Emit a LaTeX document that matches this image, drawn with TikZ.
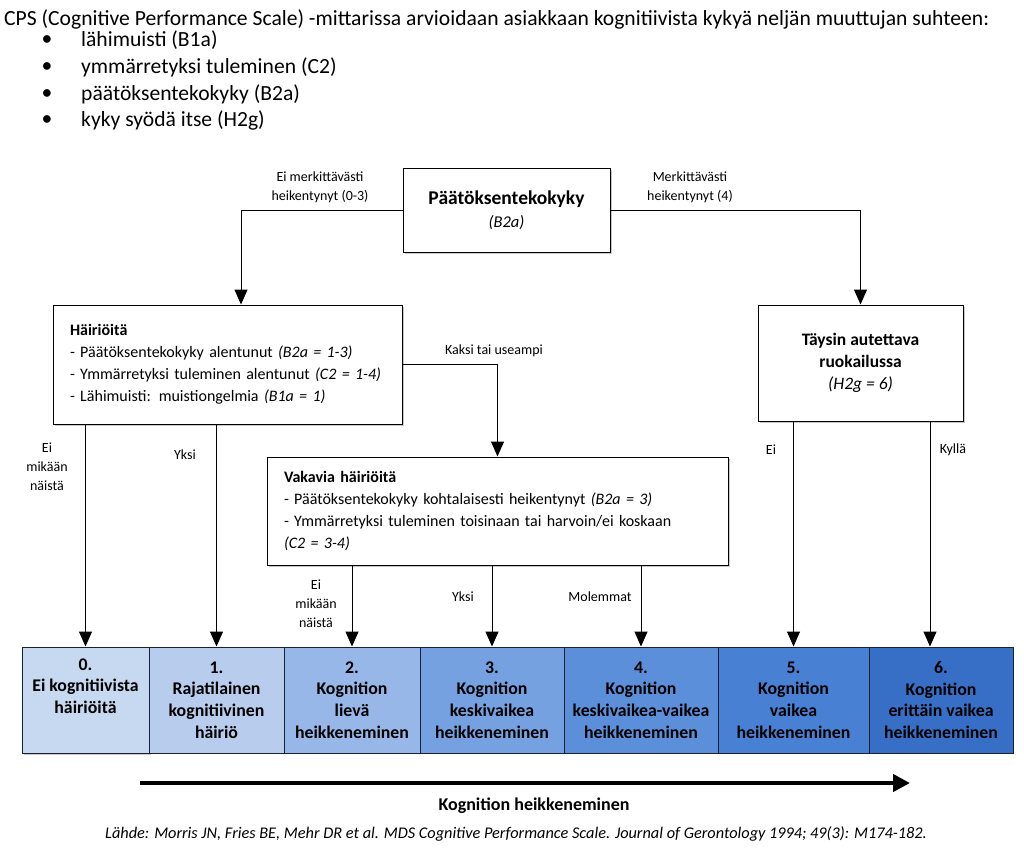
\documentclass[tikz,border=0pt]{standalone}
\usepackage{fontspec}
\setmainfont{Carlito}
\usetikzlibrary{arrows.meta,calc,shadows}

\definecolor{lvlA}{RGB}{198,217,241}
\definecolor{lvlB}{RGB}{184,205,238}
\definecolor{lvlC}{RGB}{150,183,231}
\definecolor{lvlD}{RGB}{117,161,225}
\definecolor{lvlE}{RGB}{92,143,218}
\definecolor{lvlF}{RGB}{72,128,211}
\definecolor{lvlG}{RGB}{56,111,198}
\definecolor{rim}{RGB}{25,32,48}

\newcommand\headfont{\fontsize{21.6}{25}\selectfont}
\newcommand\boxfont{\fontsize{16}{22}\selectfont}
\newcommand\lblfont{\fontsize{14}{18.8}\selectfont}
\newcommand\lvlfont{\fontsize{17.8}{21.6}\selectfont\bfseries}
\newcommand\bigbf[1]{{\fontsize{19.5}{23}\selectfont\bfseries #1}}

\tikzset{
	box/.style={draw, line width=1pt, fill=white, drop shadow={shadow xshift=2pt, shadow yshift=-2pt, opacity=0.3, fill=black!70}},
	lvl/.style={draw=rim, line width=1pt, minimum height=106, inner sep=0pt, align=center, font=\lvlfont},
	lbl/.style={font=\lblfont, inner sep=1pt},
	arr/.style={line width=1pt, -{Triangle[length=15pt,width=13pt]}}
}

\begin{document}
\begin{tikzpicture}[x=1pt, y=-1pt]
	%%%%% START %%%%%
	\useasboundingbox (0,0) rectangle (1024,852);
	
	% johdanto ja muuttujat
	\node[anchor=west, font=\headfont, inner sep=0pt] (intro) at (4,19) {CPS (Cognitive Performance Scale) -mittarissa arvioidaan asiakkaan kognitiivista kykyä neljän muuttujan suhteen:};
	\node[font=\headfont, inner sep=0pt] (dot1) at (47,41) {\textbullet};
	\node[anchor=west, font=\headfont, inner sep=0pt] (item1) at (81,40) {lähimuisti (B1a)};
	\node[font=\headfont, inner sep=0pt] (dot2) at (47,68) {\textbullet};
	\node[anchor=west, font=\headfont, inner sep=0pt] (item2) at (81,67) {ymmärretyksi tuleminen (C2)};
	\node[font=\headfont, inner sep=0pt] (dot3) at (47,95) {\textbullet};
	\node[anchor=west, font=\headfont, inner sep=0pt] (item3) at (81,94) {päätöksentekokyky (B2a)};
	\node[font=\headfont, inner sep=0pt] (dot4) at (47,121) {\textbullet};
	\node[anchor=west, font=\headfont, inner sep=0pt] (item4) at (81,120) {kyky syödä itse (H2g)};
	
	% paatoslaatikot
	\node[box, minimum width=207, minimum height=84, align=center, font=\fontsize{16.5}{23}\selectfont] (paatos) at (506.5,210) {\bigbf{Päätöksentekokyky}\\\textit{(B2a)}};
	
	\node[box, minimum width=349, minimum height=119, text width=315, inner xsep=17pt, align=left, font=\boxfont] (hairiot) at (227.5,364.5) {\textbf{Häiriöitä}\\
		- Päätöksentekokyky alentunut \textit{(B2a = 1-3)}\\
		- Ymmärretyksi tuleminen alentunut \textit{(C2 = 1-4)}\\
		- Lähimuisti: muistiongelmia \textit{(B1a = 1)}};
	
	\node[box, minimum width=205, minimum height=116, align=center, font=\fontsize{17.5}{22}\selectfont] (taysin) at (860.5,363) {\textbf{Täysin autettava}\\\textbf{ruokailussa}\\\textit{(H2g = 6)}};
	
	\node[box, minimum width=461, minimum height=108, text width=427, inner xsep=17pt, align=left, font=\boxfont] (vakavia) at (497.5,511) {\textbf{Vakavia häiriöitä}\\
		- Päätöksentekokyky kohtalaisesti heikentynyt \textit{(B2a = 3)}\\
		- Ymmärretyksi tuleminen toisinaan tai harvoin/ei koskaan\\
		\textit{(C2 = 3-4)}};
	
	% CPS-luokat
	\node[lvl, fill=lvlA, minimum width=127, drop shadow={shadow xshift=2pt, shadow yshift=-2pt, opacity=0.3, fill=black!70}] (lvl0) at (85.5,700) {0.\\Ei kognitiivista\\häiriöitä\\\strut};
	\node[lvl, fill=lvlB, minimum width=135] (lvl1) at (216.5,700) {1.\\Rajatilainen\\kognitiivinen\\häiriö};
	\node[lvl, fill=lvlC, minimum width=136] (lvl2) at (352,700) {2.\\Kognition\\lievä\\heikkeneminen};
	\node[lvl, fill=lvlD, minimum width=144] (lvl3) at (492,700) {3.\\Kognition\\keskivaikea\\heikkeneminen};
	\node[lvl, fill=lvlE, minimum width=154] (lvl4) at (641,700) {4.\\Kognition\\keskivaikea-vaikea\\heikkeneminen};
	\node[lvl, fill=lvlF, minimum width=151] (lvl5) at (793.5,700) {5.\\Kognition\\vaikea\\heikkeneminen};
	\node[lvl, fill=lvlG, minimum width=144] (lvl6) at (941,700) {6.\\Kognition\\erittäin vaikea\\heikkeneminen};
	
	% nuolet
	\draw[arr] (paatos.west) -| ($(hairiot.north)+(13.5,0)$);
	\draw[arr] (paatos.east) -| (taysin.north);
	\draw[arr] (hairiot.east) -| (vakavia.north);
	\draw[arr] (hairiot.south -| lvl0.north) -- (lvl0.north);
	\draw[arr] (hairiot.south -| lvl1.north) -- (lvl1.north);
	\draw[arr] (vakavia.south -| lvl2.north) -- (lvl2.north);
	\draw[arr] (vakavia.south -| lvl3.north) -- (lvl3.north);
	\draw[arr] (vakavia.south -| lvl4.north) -- (lvl4.north);
	\draw[arr] (taysin.south -| lvl5.north) -- (lvl5.north);
	\coordinate (kylla) at ($(lvl6.north)+(-11,0)$);
	\draw[arr] (taysin.south -| kylla) -- (kylla);
	
	% nuolten tekstit
	\node[lbl, align=center] (l03) at (320,187) {Ei merkittävästi\\heikentynyt (0-3)};
	\node[lbl, align=center] (l4) at (690,187) {Merkittävästi\\heikentynyt (4)};
	\node[lbl] (lkaksi) at (494,351) {Kaksi tai useampi};
	\node[lbl, align=center] (lei0) at (47,467) {Ei\\mikään\\näistä};
	\node[lbl] (lyksi0) at (185,455) {Yksi};
	\node[lbl, align=center] (lei2) at (316,604) {Ei\\mikään\\näistä};
	\node[lbl] (lyksi2) at (463,597) {Yksi};
	\node[lbl] (lmol) at (600,597) {Molemmat};
	\node[lbl] (lei5) at (771,450) {Ei};
	\node[lbl] (lkylla) at (953,450) {Kyllä};
	
	% heikkenemisen suunta
	\coordinate (trendA) at (140,783);
	\coordinate (trendB) at (910,783);
	\draw[line width=4.5pt, -{Triangle[length=17pt,width=17pt]}] (trendA) -- (trendB);
	\node[font=\fontsize{18}{22}\selectfont\bfseries] (trendlbl) at (534,806) {Kognition heikkeneminen};
	
	\node[font=\fontsize{16.3}{19}\selectfont\itshape] (lahde) at (516,834) {Lähde: Morris JN, Fries BE, Mehr DR et al. MDS Cognitive Performance Scale. Journal of Gerontology 1994; 49(3): M174-182.};
	
	%%%%% END %%%%%
\end{tikzpicture}
\end{document}
